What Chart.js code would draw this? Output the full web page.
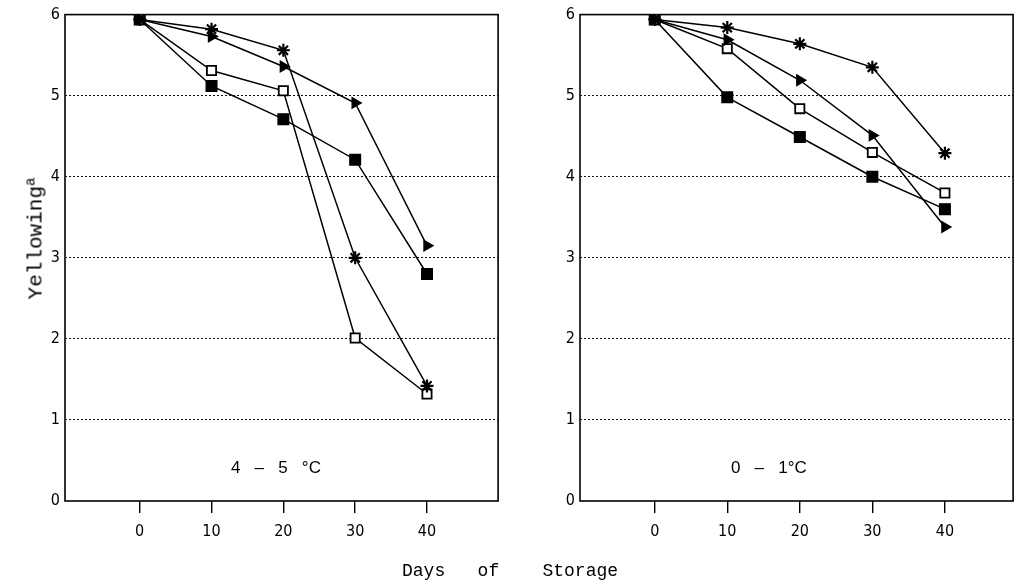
<!DOCTYPE html>
<html>
<head>
<meta charset="utf-8">
<script src="https://cdn.jsdelivr.net/npm/chart.js@4"></script>
<style>
  html, body { margin: 0; padding: 0; background: #fff; }
  #wrap { position: relative; width: 1015px; height: 586px; overflow: hidden; background: #fff; }
  canvas { position: absolute; top: 0; }
  .txt { position: absolute; color: #000; white-space: pre; }
  .sup { font-size: 14px; position: relative; top: -7px; }
</style>
</head>
<body>
<div id="wrap">
  <canvas id="c1" width="507" height="586" style="left:0px;width:507px;height:586px"></canvas>
  <canvas id="c2" width="507" height="586" style="left:515px;width:507px;height:586px"></canvas>
  <div class="txt" id="ylab" style="font-family:'Liberation Mono','DejaVu Sans Mono',monospace;font-size:21px;line-height:24px;left:-38px;top:226px;width:150px;text-align:center;transform:rotate(-90deg);">Yellowing<span class="sup">a</span></div>
  <div class="txt" style="font-family:'Liberation Sans',Arial,sans-serif;font-size:17px;left:231px;top:458px;">4   –   5   °C</div>
  <div class="txt" style="font-family:'Liberation Sans',Arial,sans-serif;font-size:17px;left:731px;top:458px;">0   –   1°C</div>
  <div class="txt" style="font-family:'Liberation Mono','DejaVu Sans Mono',monospace;font-size:18px;left:402px;top:561px;">Days   of    Storage</div>
</div>
<script>
// ---- data ----
const days = [0, 10, 20, 30, 40];
const yTicks = [0, 1, 2, 3, 4, 5, 6];
const panels = ["4 – 5 °C", "0 – 1°C"];

// 4-5 °C
const warmStar     = [5.94, 5.82, 5.56, 3.00, 1.42];
const warmTriangle = [5.94, 5.73, 5.36, 4.91, 3.15];
const warmOpenSq   = [5.94, 5.31, 5.06, 2.01, 1.32];
const warmFilledSq = [5.94, 5.12, 4.71, 4.21, 2.80];

// 0-1 °C
const coldStar     = [5.94, 5.84, 5.64, 5.35, 4.29];
const coldTriangle = [5.94, 5.69, 5.19, 4.51, 3.38];
const coldOpenSq   = [5.94, 5.58, 4.84, 4.30, 3.80];
const coldFilledSq = [5.94, 4.98, 4.49, 4.00, 3.60];

function pts(vals) { return days.map((d, i) => ({ x: d, y: vals[i] })); }

const tickFont = { family: "'Liberation Sans Narrow','DejaVu Sans Condensed','Liberation Sans',sans-serif", size: 16 };

const boxPlugin = {
  id: 'box',
  beforeDatasetsDraw(chart) {
    const a = chart.chartArea, ctx = chart.ctx;
    ctx.save();
    ctx.strokeStyle = '#000';
    ctx.lineWidth = 1.6;
    ctx.strokeRect(a.left, a.top, a.right - a.left, a.bottom - a.top);
    ctx.restore();
  }
};

function makeChart(id, series, xmin, xmax) {
  const base = { borderColor: '#000', borderWidth: 1.5, pointBorderColor: '#000', pointBorderWidth: 1.4, showLine: true, fill: false, tension: 0 };
  const datasets = [
    Object.assign({}, base, { label: 'star', data: pts(series[0]), pointStyle: 'star', pointRadius: 6.5, pointBackgroundColor: '#000', pointBorderWidth: 2.2 }),
    Object.assign({}, base, { label: 'triangle', data: pts(series[1]), pointStyle: 'triangle', pointRotation: 90, pointRadius: 6, pointBackgroundColor: '#000' }),
    Object.assign({}, base, { label: 'open square', data: pts(series[2]), pointStyle: 'rect', pointRadius: 6.5, pointBackgroundColor: '#fff', pointBorderWidth: 1.8 }),
    Object.assign({}, base, { label: 'filled square', data: pts(series[3]), pointStyle: 'rect', pointRadius: 7.5, pointBackgroundColor: '#000' })
  ];
  return new Chart(document.getElementById(id), {
    type: 'scatter',
    data: { datasets },
    plugins: [boxPlugin],
    options: {
      responsive: false,
      animation: false,
      events: [],
      layout: { padding: { top: 14, right: 8, left: 0, bottom: 0 } },
      plugins: { legend: { display: false }, tooltip: { enabled: false } },
      scales: {
        x: {
          type: 'linear', min: xmin, max: xmax,
          afterBuildTicks(s) { s.ticks = days.map(v => ({ value: v })); },
          afterFit(s) { s.height = 85; },
          border: { display: false },
          grid: { drawOnChartArea: false, drawTicks: true, tickLength: 12, color: '#000', lineWidth: 1.4 },
          ticks: { color: '#000', font: tickFont, padding: 9, maxRotation: 0, autoSkip: false }
        },
        y: {
          type: 'linear', min: 0, max: 6,
          afterBuildTicks(s) { s.ticks = yTicks.map(v => ({ value: v })); },
          afterFit(s) { s.width = 65; },
          border: { display: false, dash: [2, 2] },
          grid: {
            drawTicks: false,
            color: ctx => (ctx.tick && (ctx.tick.value === 0 || ctx.tick.value === 6)) ? 'rgba(0,0,0,0)' : '#111',
            lineWidth: 1
          },
          ticks: { color: '#000', font: tickFont, padding: 5 }
        }
      }
    }
  });
}

makeChart('c1', [warmStar, warmTriangle, warmOpenSq, warmFilledSq], -10.4, 49.9);
makeChart('c2', [coldStar, coldTriangle, coldOpenSq, coldFilledSq], -10.3, 49.4);
</script>
</body>
</html>
